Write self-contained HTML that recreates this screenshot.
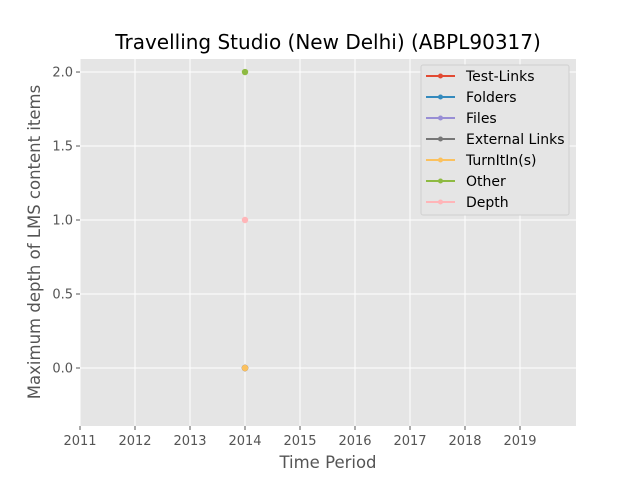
<!DOCTYPE html>
<html><head><meta charset="utf-8"><style>
body{margin:0;background:#fff;}
svg{display:block;font-family:"DejaVu Sans","Liberation Sans",sans-serif;}
</style></head><body>
<svg id="chart" width="640" height="480" xmlns="http://www.w3.org/2000/svg">
<rect x="0" y="0" width="640" height="480" fill="#ffffff"/>
<rect x="80" y="59" width="496" height="367" fill="#e5e5e5"/>
<g id="grid"></g>
<g id="ticks"></g>
<g id="marks"></g>
<text x="328" y="49" font-size="20" text-anchor="middle" fill="#000">Travelling Studio (New Delhi) (ABPL90317)</text>
<text x="328" y="468" font-size="16.5" text-anchor="middle" fill="#555">Time Period</text>
<text transform="translate(40,242) rotate(-90)" font-size="16.5" text-anchor="middle" fill="#555">Maximum depth of LMS content items</text>
<g id="legend">
<rect x="421" y="65" width="148" height="150" rx="2" fill="#e5e5e5" stroke="#d0d0d0" stroke-width="1"/>
</g>
</svg>
<script>
const seriesNames = ["Test-Links","Folders","Files","External Links","TurnItIn(s)","Other","Depth"];
const seriesColors = ["#E24A33","#348ABD","#988ED5","#777777","#FBC15E","#8EBA42","#FFB5B8"];
const years = [2014];
const testLinks = [0];
const folders = [0];
const files = [0];
const externalLinks = [0];
const turnItIns = [0];
const other = [2];
const depth = [1];
const xTicks = [2011,2012,2013,2014,2015,2016,2017,2018,2019];
const yTicks = [0.0,0.5,1.0,1.5,2.0];
const yTickLabels = ["0.0","0.5","1.0","1.5","2.0"];

const NS="http://www.w3.org/2000/svg";
const X0=80,X1=576,Y0=59,Y1=426;
const xMin=2011,xMax=2020.018, yMin=-0.392, yMax=2.088;
function xs(v){return X0+(v-xMin)/(xMax-xMin)*(X1-X0);}
function ys(v){return Y1-(v-yMin)/(yMax-yMin)*(Y1-Y0);}
function mk(tag,attrs,parent){const e=document.createElementNS(NS,tag);for(const k in attrs)e.setAttribute(k,attrs[k]);parent.appendChild(e);return e;}
const grid=document.getElementById('grid'),ticks=document.getElementById('ticks'),marks=document.getElementById('marks'),legend=document.getElementById('legend');
xTicks.forEach(t=>{
  const x=xs(t);
  const g=mk('line',{x1:x,x2:x,y1:Y0,y2:Y1,stroke:'#fff','stroke-width':1},grid);
  
  
  const tk=mk('line',{x1:x,x2:x,y1:Y1,y2:Y1+4,stroke:'#555','stroke-width':1},ticks);
  
  
  const tx=mk('text',{x:x,y:Y1+19,'font-size':13,'text-anchor':'middle',fill:'#555'},ticks);
  tx.textContent=String(t);
  
  
});
yTicks.forEach((t,i)=>{
  const y=ys(t);
  const g=mk('line',{x1:X0,x2:X1,y1:y,y2:y,stroke:'#fff','stroke-width':1},grid);
  
  
  const tk=mk('line',{x1:X0-4,x2:X0,y1:y,y2:y,stroke:'#555','stroke-width':1},ticks);
  
  
  const tx=mk('text',{x:X0-7,y:y+4.5,'font-size':13,'text-anchor':'end',fill:'#555'},ticks);
  tx.textContent=yTickLabels[i];
  
  
});
const allSeries=[testLinks,folders,files,externalLinks,turnItIns,other,depth];
allSeries.forEach((vals,si)=>{
  const col=seriesColors[si];
  if(vals.length>1){
    const p=mk('polyline',{points:vals.map((v,i)=>xs(years[i])+','+ys(v)).join(' '),fill:'none',stroke:col,'stroke-width':1.5},marks);
    
    
  }
  vals.forEach((v,i)=>{
    const c=mk('circle',{cx:xs(years[i]),cy:ys(v),r:3.2,fill:col},marks);
    
    
  });
  const ly=76+si*21;
  const ll=mk('line',{x1:426,x2:455,y1:ly,y2:ly,stroke:col,'stroke-width':2},legend);
  
  
  const lc=mk('circle',{cx:440.5,cy:ly,r:2.5,fill:col},legend);
  
  
  const lt=mk('text',{x:466,y:ly+5,'font-size':14,fill:'#000'},legend);
  lt.textContent=seriesNames[si];
  
  
});
</script>
</body></html>
